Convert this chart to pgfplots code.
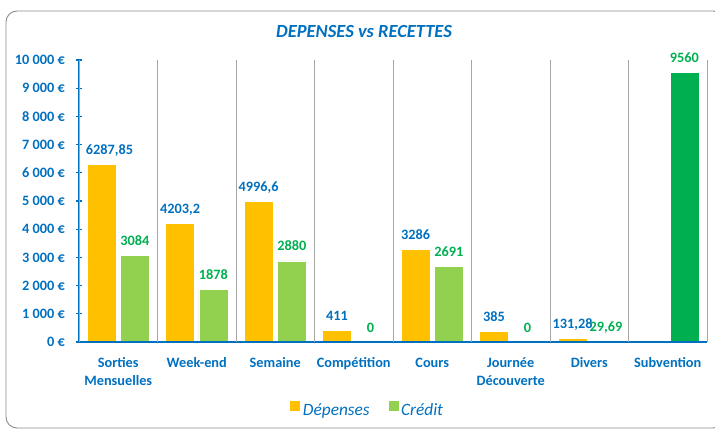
\documentclass[border=0pt]{standalone}
\usepackage{fontspec}
\setmainfont{Carlito}
\usepackage{pgfplots}
\usepackage{pgfplotstable}
\pgfplotsset{compat=1.18}
\definecolor{cblue}{HTML}{0070C0}
\definecolor{cgold}{HTML}{FFC000}
\definecolor{clgreen}{HTML}{92D050}
\definecolor{cdgreen}{HTML}{00B050}
\definecolor{cgrid}{HTML}{A6A6A6}
\definecolor{cframe}{HTML}{8C8C8C}

\pgfplotstableread{
x dep deplab
0 6287.85 {\hspace*{16pt}6287,85}
1 4203.2 4203,2
2 4996.6 4996,6
3 411 411
4 3286 3286
5 385 385
6 131.28 131,28
}\dep
\pgfplotstableread{
x cre crelab
0 3084 3084
1 1878 1878
2 2880 2880
3 0 0
4 2691 2691
5 0 0
6 29.69 29,69
}\cre
\pgfplotstableread{
x cre crelab
7 9560 9560
}\sub

\begin{document}
\begin{tikzpicture}
\useasboundingbox (0,0) rectangle (715pt,-430pt);
\draw[cframe, line width=0.9pt, rounded corners=11pt] (6pt,-11pt) rectangle (724pt,-428pt);
\node[text=cblue, font=\fontsize{18.5}{22}\selectfont\bfseries\itshape] at (364pt,-32pt) {DEPENSES vs RECETTES};
\begin{axis}[
  scale only axis, width=628pt, height=282pt,
  at={(79pt,-342pt)}, anchor=south west,
  clip=false, axis on top,
  xmin=-0.5, xmax=7.5, ymin=0, ymax=10000,
  scaled y ticks=false,
  axis x line*=bottom, axis y line*=left,
  axis line style={cblue, line width=1.8pt},
  xtick={0,...,7},
  xticklabels={{Sorties\\Mensuelles},Week-end,Semaine,Compétition,Cours,{Journée\\Découverte},Divers,Subvention},
  xtick style={draw=none},
  xticklabel style={align=center, anchor=north, inner sep=0pt, yshift=-12.5pt, text=cblue, font=\fontsize{14.3}{17.5}\selectfont\bfseries},
  extra x ticks={-0.5,0.5,...,7.5},
  extra x tick labels={},
  extra x tick style={grid=major, major grid style={cgrid, line width=0.9pt}, tick style={draw=cblue, line width=1.4pt}, major tick length=8pt, tick align=center},
  ytick={0,1000,...,10000},
  yticklabels={0 €,1 000 €,2 000 €,3 000 €,4 000 €,5 000 €,6 000 €,7 000 €,8 000 €,9 000 €,10 000 €},
  ytick style={draw=cblue, line width=1.3pt},
  major tick length=6pt, tick align=center,
  yticklabel style={anchor=east, inner sep=0pt, xshift=-11pt, text=cblue, font=\fontsize{14.3}{17}\selectfont\bfseries},
  legend style={at={(0.459,-0.238)}, anchor=center, draw=none, fill=none, legend columns=2,
    font=\fontsize{17.3}{20}\selectfont\itshape, text=cblue,
    /tikz/every even column/.append style={column sep=16pt},
    nodes={inner sep=2pt}},
  legend image code/.code={\fill[#1] (0pt,-1pt) rectangle (11pt,10pt);},
]
\addplot[ybar, bar width=0.37, bar shift=0, fill=cgold, draw=white, line width=0.5pt,
  nodes near coords, point meta=explicit symbolic,
  every node near coord/.append style={text=cblue, font=\fontsize{14.3}{17}\selectfont\bfseries, anchor=base, inner sep=0pt, yshift=10pt}]
  table[x expr=\thisrow{x}-0.2127, y=dep, meta=deplab]{\dep};
\addplot[ybar, bar width=0.37, bar shift=0, fill=clgreen, draw=white, line width=0.5pt,
  nodes near coords, point meta=explicit symbolic,
  every node near coord/.append style={text=cdgreen, font=\fontsize{14.3}{17}\selectfont\bfseries, anchor=base, inner sep=0pt, yshift=10pt}]
  table[x expr=\thisrow{x}+0.2127, y=cre, meta=crelab]{\cre};
\addplot[ybar, forget plot, bar width=0.37, bar shift=0, fill=cdgreen, draw=white, line width=0.5pt,
  nodes near coords, point meta=explicit symbolic,
  every node near coord/.append style={text=cdgreen, font=\fontsize{14.3}{17}\selectfont\bfseries, anchor=base, inner sep=0pt, yshift=10pt}]
  table[x expr=\thisrow{x}+0.2127, y=cre, meta=crelab]{\sub};
\legend{Dépenses, Crédit}
\end{axis}
\end{tikzpicture}
\end{document}
